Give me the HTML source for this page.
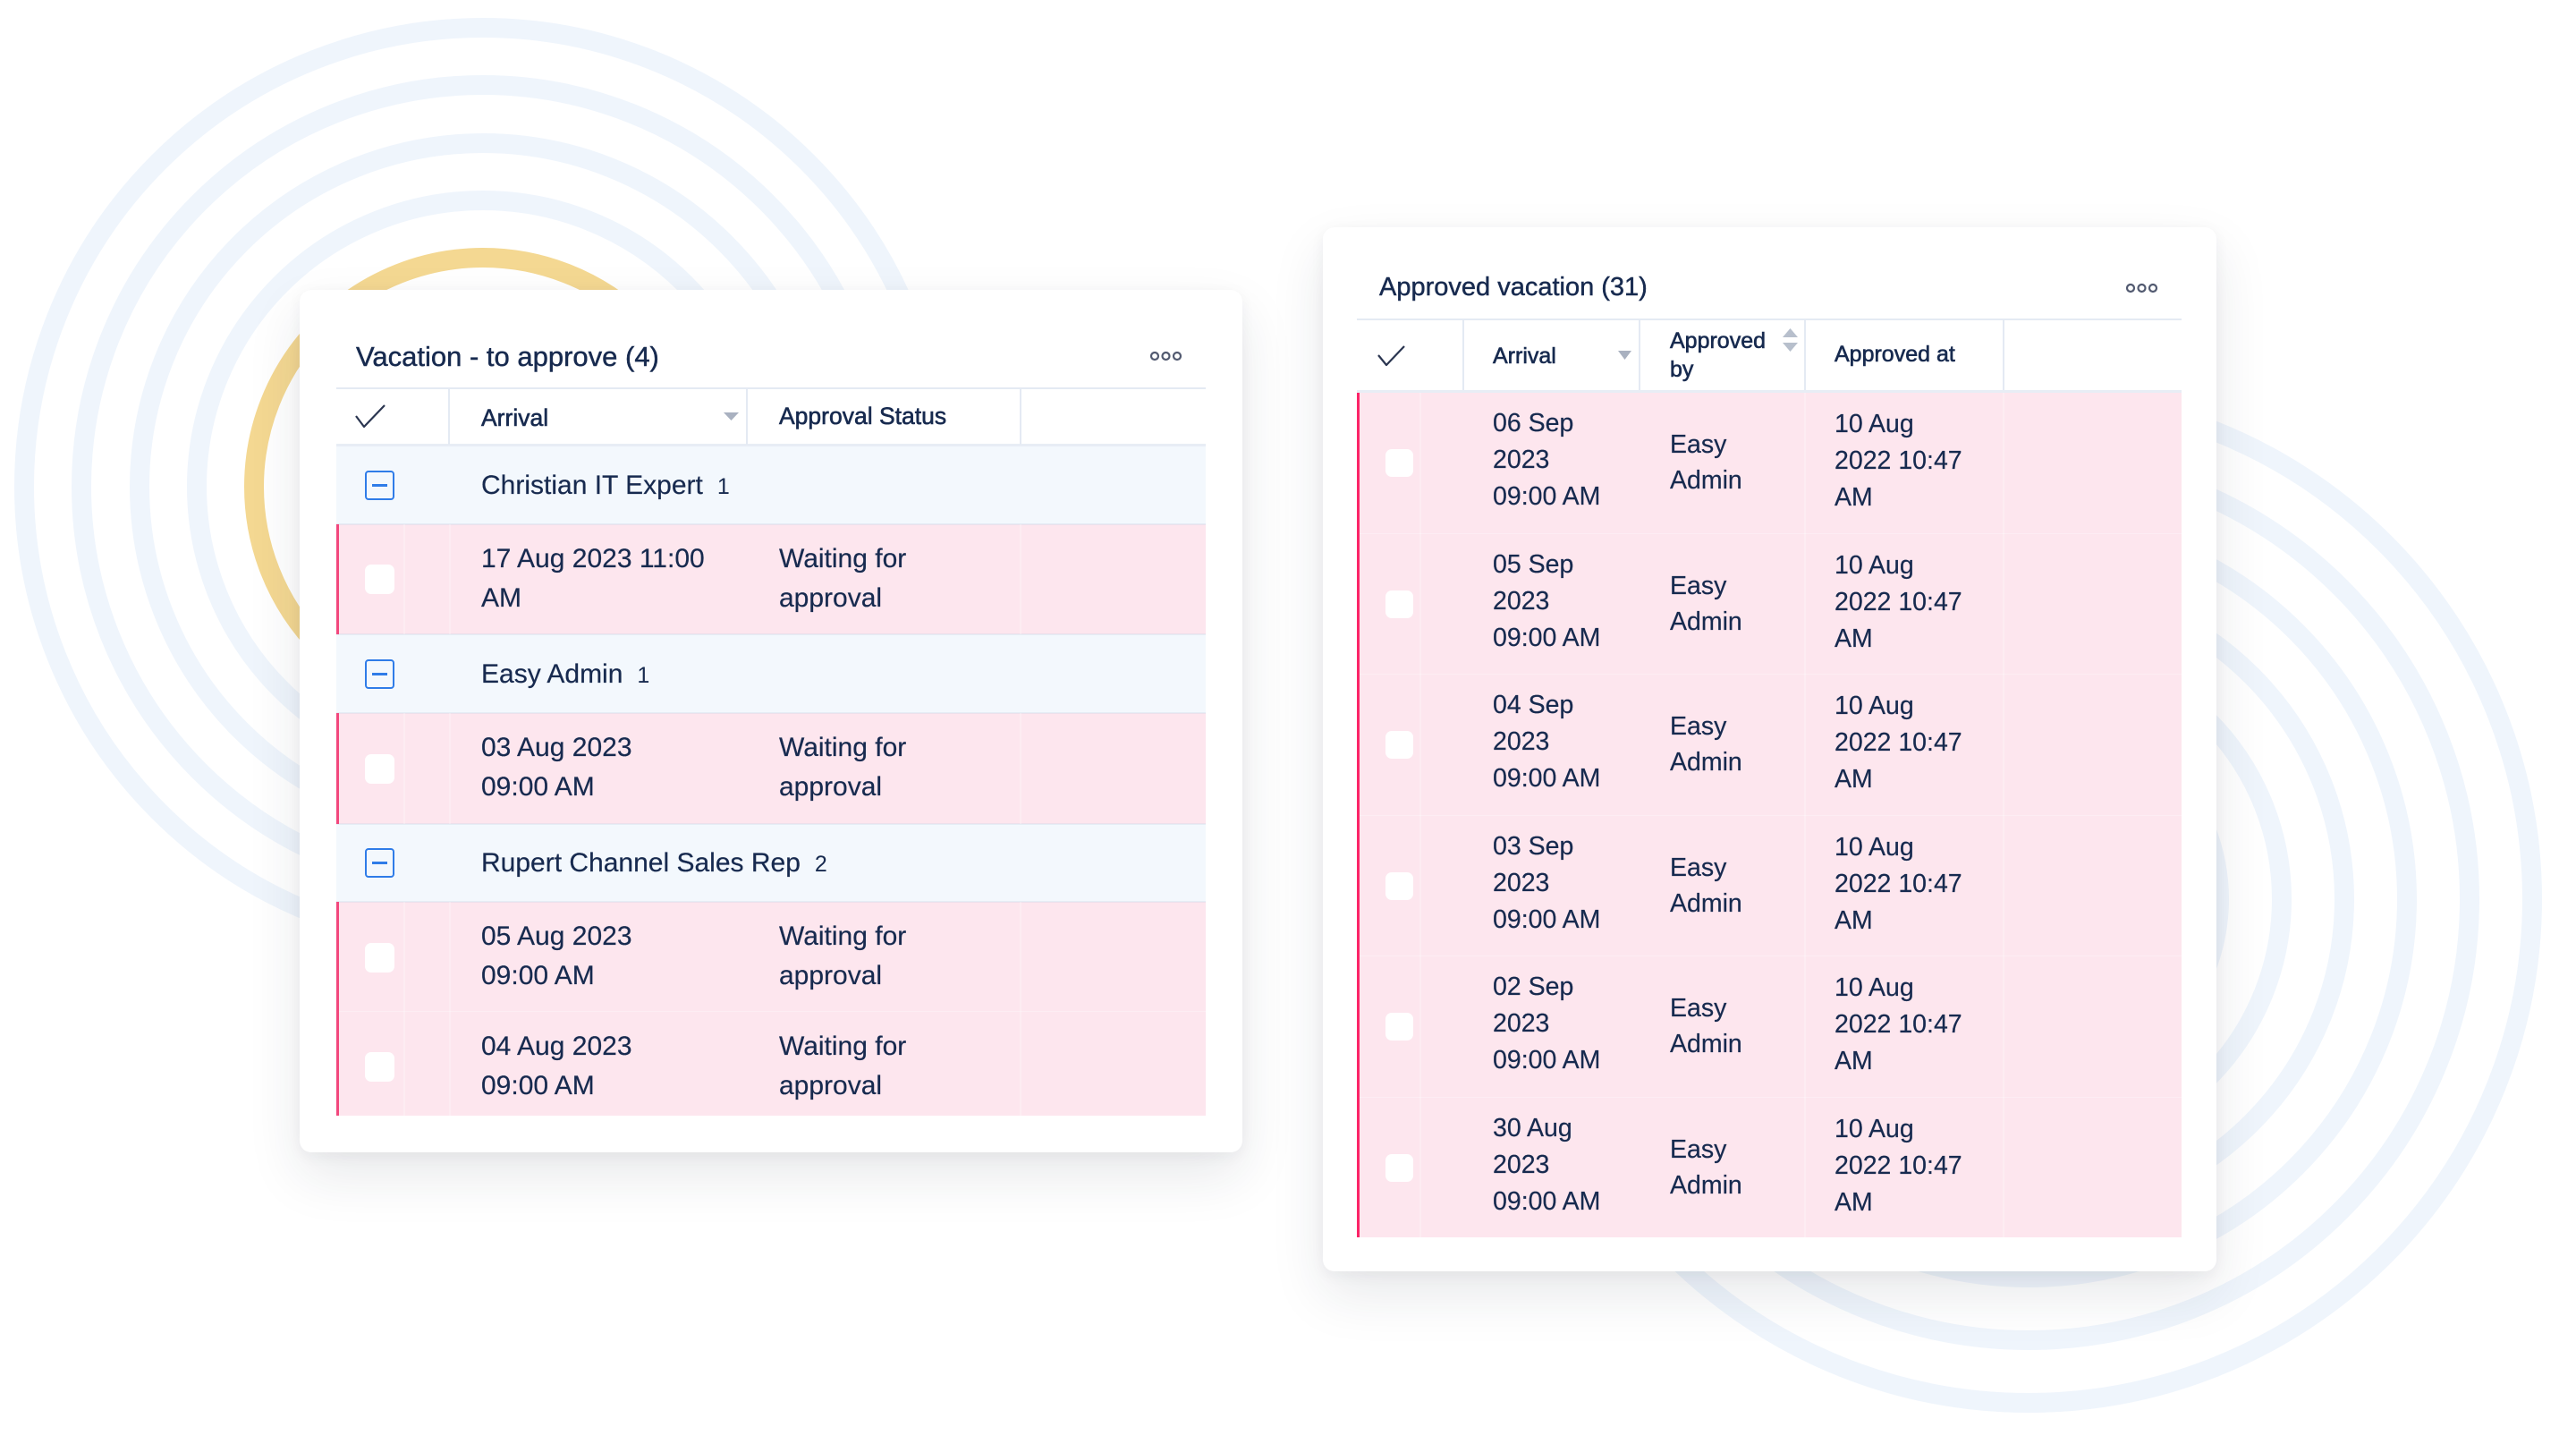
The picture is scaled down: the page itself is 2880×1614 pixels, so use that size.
<!DOCTYPE html>
<html><head><meta charset="utf-8">
<style>
html,body{margin:0;padding:0;}
body{width:2880px;height:1614px;position:relative;overflow:hidden;background:#fff;font-family:"Liberation Sans",Arial,sans-serif;}
.abs{position:absolute;}
.panel{position:absolute;background:#fff;border-radius:13px;box-shadow:0 26px 60px rgba(30,40,60,0.10),0 4px 16px rgba(30,40,60,0.05);}
.t{position:absolute;white-space:nowrap;color:#172a4f;}
.title{line-height:1;-webkit-text-stroke:0.45px #172a4f;}
.hd{line-height:1;-webkit-text-stroke:0.6px #172a4f;}
.lb{font-size:30px;line-height:44px;-webkit-text-stroke:0.2px #172a4f;}
.rb{font-size:28.5px;line-height:41px;-webkit-text-stroke:0.2px #172a4f;}
.cnt{font-size:25px;margin-left:16px;-webkit-text-stroke:0;}
.grp{position:absolute;background:#f3f8fd;}
.pink{position:absolute;background:#fde6ee;}
.line{position:absolute;background:#e4eaf3;}
.vfaint{position:absolute;background:rgba(255,255,255,0.25);width:2px;}
.hfaint{position:absolute;height:1px;background:rgba(255,255,255,0.3);}
.cbw{position:absolute;background:#fff;border-radius:7px;}
.cbg{position:absolute;width:29px;height:29px;border:2px solid #2f7ce8;border-radius:4px;box-sizing:content-box;}
.cbg:after{content:"";position:absolute;left:6px;top:13px;width:17px;height:2.5px;background:#2f7ce8;}
.red{position:absolute;width:3px;}
</style></head><body>

<svg class="abs" style="left:0;top:0" width="2880" height="1614" viewBox="0 0 2880 1614">
  <g fill="none" stroke="#eff5fc" stroke-width="22">
    <circle cx="540" cy="544" r="513"/>
    <circle cx="540" cy="544" r="449"/>
    <circle cx="540" cy="544" r="384"/>
    <circle cx="540" cy="544" r="320"/>
    <circle cx="2268" cy="1005" r="563"/>
    <circle cx="2268" cy="1005" r="493"/>
    <circle cx="2268" cy="1005" r="423"/>
    <circle cx="2268" cy="1005" r="353"/>
    <circle cx="2268" cy="1005" r="283"/>
    <circle cx="2268" cy="1005" r="213"/>
  </g>
  <circle cx="540" cy="544" r="256" fill="none" stroke="#f4d892" stroke-width="22"/>
</svg>

<!-- LEFT PANEL -->
<div class="panel" style="left:335px;top:324px;width:1054px;height:964px;"></div>
<div class="t title" style="left:398px;top:383px;font-size:31px;">Vacation - to approve (4)</div>

<!-- header -->
<div class="line" style="left:376px;top:433px;width:972px;height:2px;"></div>
<div class="line" style="left:376px;top:496px;width:972px;height:3px;background:#e8edf5;"></div>
<div class="line" style="left:501px;top:435px;width:2px;height:62px;"></div>
<div class="line" style="left:834px;top:435px;width:2px;height:62px;"></div>
<div class="line" style="left:1140px;top:435px;width:2px;height:62px;"></div>
<div class="t hd" style="left:538px;top:454px;font-size:26.5px;">Arrival</div>
<div class="t hd" style="left:871px;top:452px;font-size:26.5px;">Approval Status</div>

<!-- rows -->
<div class="grp" style="left:376px;top:499px;width:972px;height:87px;"></div>
<div class="pink" style="left:376px;top:586px;width:972px;height:123px;"></div>
<div class="grp" style="left:376px;top:709px;width:972px;height:88px;"></div>
<div class="pink" style="left:376px;top:797px;width:972px;height:124px;"></div>
<div class="grp" style="left:376px;top:921px;width:972px;height:87px;"></div>
<div class="pink" style="left:376px;top:1008px;width:972px;height:123px;"></div>
<div class="pink" style="left:376px;top:1131px;width:972px;height:116px;"></div>
<div class="hfaint" style="left:376px;top:1130px;width:972px;"></div>
<div class="abs" style="left:376px;top:585px;width:972px;height:2px;background:rgba(200,212,228,0.35);"></div>
<div class="abs" style="left:376px;top:708px;width:972px;height:2px;background:rgba(200,212,228,0.30);"></div>
<div class="abs" style="left:376px;top:796px;width:972px;height:2px;background:rgba(200,212,228,0.30);"></div>
<div class="abs" style="left:376px;top:920px;width:972px;height:2px;background:rgba(200,212,228,0.30);"></div>
<div class="abs" style="left:376px;top:1007px;width:972px;height:2px;background:rgba(200,212,228,0.30);"></div>

<div class="red" style="left:376px;top:586px;height:123px;background:#f2477d;"></div>
<div class="red" style="left:376px;top:797px;height:124px;background:#f2477d;"></div>
<div class="red" style="left:376px;top:1008px;height:239px;background:#f2477d;"></div>

<div class="vfaint" style="left:451px;top:586px;height:123px;"></div>
<div class="vfaint" style="left:502px;top:586px;height:123px;"></div>
<div class="vfaint" style="left:1140px;top:586px;height:123px;"></div>
<div class="vfaint" style="left:451px;top:797px;height:124px;"></div>
<div class="vfaint" style="left:502px;top:797px;height:124px;"></div>
<div class="vfaint" style="left:1140px;top:797px;height:124px;"></div>
<div class="vfaint" style="left:451px;top:1008px;height:239px;"></div>
<div class="vfaint" style="left:502px;top:1008px;height:239px;"></div>
<div class="vfaint" style="left:1140px;top:1008px;height:239px;"></div>

<!-- group checkboxes -->
<div class="cbg" style="left:408px;top:526px;"></div>
<div class="cbg" style="left:408px;top:737px;"></div>
<div class="cbg" style="left:408px;top:948px;"></div>
<!-- row checkboxes -->
<div class="cbw" style="left:408px;top:631px;width:33px;height:33px;"></div>
<div class="cbw" style="left:408px;top:843px;width:33px;height:33px;"></div>
<div class="cbw" style="left:408px;top:1054px;width:33px;height:33px;"></div>
<div class="cbw" style="left:408px;top:1176px;width:33px;height:33px;"></div>

<div class="t lb" style="left:538px;top:521px;">Christian IT Expert<span class="cnt">1</span></div>
<div class="t lb" style="left:538px;top:603px;">17 Aug 2023 11:00<br>AM</div>
<div class="t lb" style="left:871px;top:603px;">Waiting for<br>approval</div>
<div class="t lb" style="left:538px;top:732px;">Easy Admin<span class="cnt">1</span></div>
<div class="t lb" style="left:538px;top:814px;">03 Aug 2023<br>09:00 AM</div>
<div class="t lb" style="left:871px;top:814px;">Waiting for<br>approval</div>
<div class="t lb" style="left:538px;top:943px;">Rupert Channel Sales Rep<span class="cnt">2</span></div>
<div class="t lb" style="left:538px;top:1025px;">05 Aug 2023<br>09:00 AM</div>
<div class="t lb" style="left:871px;top:1025px;">Waiting for<br>approval</div>
<div class="t lb" style="left:538px;top:1148px;">04 Aug 2023<br>09:00 AM</div>
<div class="t lb" style="left:871px;top:1148px;">Waiting for<br>approval</div>

<!-- RIGHT PANEL -->
<div class="panel" style="left:1479px;top:254px;width:999px;height:1167px;"></div>
<div class="t title" style="left:1542px;top:307px;font-size:29px;">Approved vacation (31)</div>

<div class="line" style="left:1517px;top:356px;width:922px;height:2px;"></div>
<div class="line" style="left:1517px;top:436px;width:922px;height:3px;background:#e8edf5;"></div>
<div class="line" style="left:1635px;top:358px;width:2px;height:78px;"></div>
<div class="line" style="left:1832px;top:358px;width:2px;height:78px;"></div>
<div class="line" style="left:2017px;top:358px;width:2px;height:78px;"></div>
<div class="line" style="left:2239px;top:358px;width:2px;height:78px;"></div>
<div class="t hd" style="left:1669px;top:386px;font-size:25px;">Arrival</div>
<div class="t hd" style="left:1867px;top:365px;font-size:25px;line-height:32px;">Approved<br>by</div>
<div class="t hd" style="left:2051px;top:384px;font-size:25px;">Approved at</div>

<div class="pink" style="left:1517px;top:439px;width:922px;height:944px;"></div>
<div class="red" style="left:1517px;top:439px;height:944px;background:#fb2468;"></div>
<div class="vfaint" style="left:1587px;top:439px;height:944px;"></div>
<div class="vfaint" style="left:2017px;top:439px;height:944px;"></div>
<div class="vfaint" style="left:2239px;top:439px;height:944px;"></div>
<div class="hfaint" style="left:1520px;top:596px;width:919px;"></div>
<div class="hfaint" style="left:1520px;top:753px;width:919px;"></div>
<div class="hfaint" style="left:1520px;top:911px;width:919px;"></div>
<div class="hfaint" style="left:1520px;top:1068px;width:919px;"></div>
<div class="hfaint" style="left:1520px;top:1226px;width:919px;"></div>

<!-- right rows: r = 438 + 157.5*i -->
<div class="cbw" style="left:1549px;top:502px;width:31px;height:31px;"></div>
<div class="t rb" style="left:1669px;top:453px;">06 Sep<br>2023<br>09:00 AM</div>
<div class="t rb" style="left:1867px;top:477px;line-height:40px;">Easy<br>Admin</div>
<div class="t rb" style="left:2051px;top:454px;">10 Aug<br>2022 10:47<br>AM</div>

<div class="cbw" style="left:1549px;top:660px;width:31px;height:31px;"></div>
<div class="t rb" style="left:1669px;top:611px;">05 Sep<br>2023<br>09:00 AM</div>
<div class="t rb" style="left:1867px;top:635px;line-height:40px;">Easy<br>Admin</div>
<div class="t rb" style="left:2051px;top:612px;">10 Aug<br>2022 10:47<br>AM</div>

<div class="cbw" style="left:1549px;top:817px;width:31px;height:31px;"></div>
<div class="t rb" style="left:1669px;top:768px;">04 Sep<br>2023<br>09:00 AM</div>
<div class="t rb" style="left:1867px;top:792px;line-height:40px;">Easy<br>Admin</div>
<div class="t rb" style="left:2051px;top:769px;">10 Aug<br>2022 10:47<br>AM</div>

<div class="cbw" style="left:1549px;top:975px;width:31px;height:31px;"></div>
<div class="t rb" style="left:1669px;top:926px;">03 Sep<br>2023<br>09:00 AM</div>
<div class="t rb" style="left:1867px;top:950px;line-height:40px;">Easy<br>Admin</div>
<div class="t rb" style="left:2051px;top:927px;">10 Aug<br>2022 10:47<br>AM</div>

<div class="cbw" style="left:1549px;top:1132px;width:31px;height:31px;"></div>
<div class="t rb" style="left:1669px;top:1083px;">02 Sep<br>2023<br>09:00 AM</div>
<div class="t rb" style="left:1867px;top:1107px;line-height:40px;">Easy<br>Admin</div>
<div class="t rb" style="left:2051px;top:1084px;">10 Aug<br>2022 10:47<br>AM</div>

<div class="cbw" style="left:1549px;top:1290px;width:31px;height:31px;"></div>
<div class="t rb" style="left:1669px;top:1241px;">30 Aug<br>2023<br>09:00 AM</div>
<div class="t rb" style="left:1867px;top:1265px;line-height:40px;">Easy<br>Admin</div>
<div class="t rb" style="left:2051px;top:1242px;">10 Aug<br>2022 10:47<br>AM</div>

<!-- icons overlay -->
<svg class="abs" style="left:0;top:0" width="2880" height="1614" viewBox="0 0 2880 1614">
  <polyline points="398,465 407,477 430,453" fill="none" stroke="#2a3550" stroke-width="2.2" stroke-linejoin="round"/>
  <polyline points="1541,397 1550,408 1570,387" fill="none" stroke="#2a3550" stroke-width="2.2" stroke-linejoin="round"/>
  <polygon points="809,461 826,461 817.5,470" fill="#a9b1c0"/>
  <polygon points="1809,392 1824,392 1816.5,402" fill="#a9b1c0"/>
  <polygon points="1993,377 2010,377 2001.5,367" fill="#b7bfcc"/>
  <polygon points="1993,383 2010,383 2001.5,393" fill="#b7bfcc"/>
  <g fill="none" stroke="#525a70" stroke-width="2.2">
    <circle cx="1291" cy="398" r="4"/>
    <circle cx="1303.5" cy="398" r="4"/>
    <circle cx="1316" cy="398" r="4"/>
    <circle cx="2382" cy="322" r="4"/>
    <circle cx="2394.5" cy="322" r="4"/>
    <circle cx="2407" cy="322" r="4"/>
  </g>
</svg>
</body></html>
